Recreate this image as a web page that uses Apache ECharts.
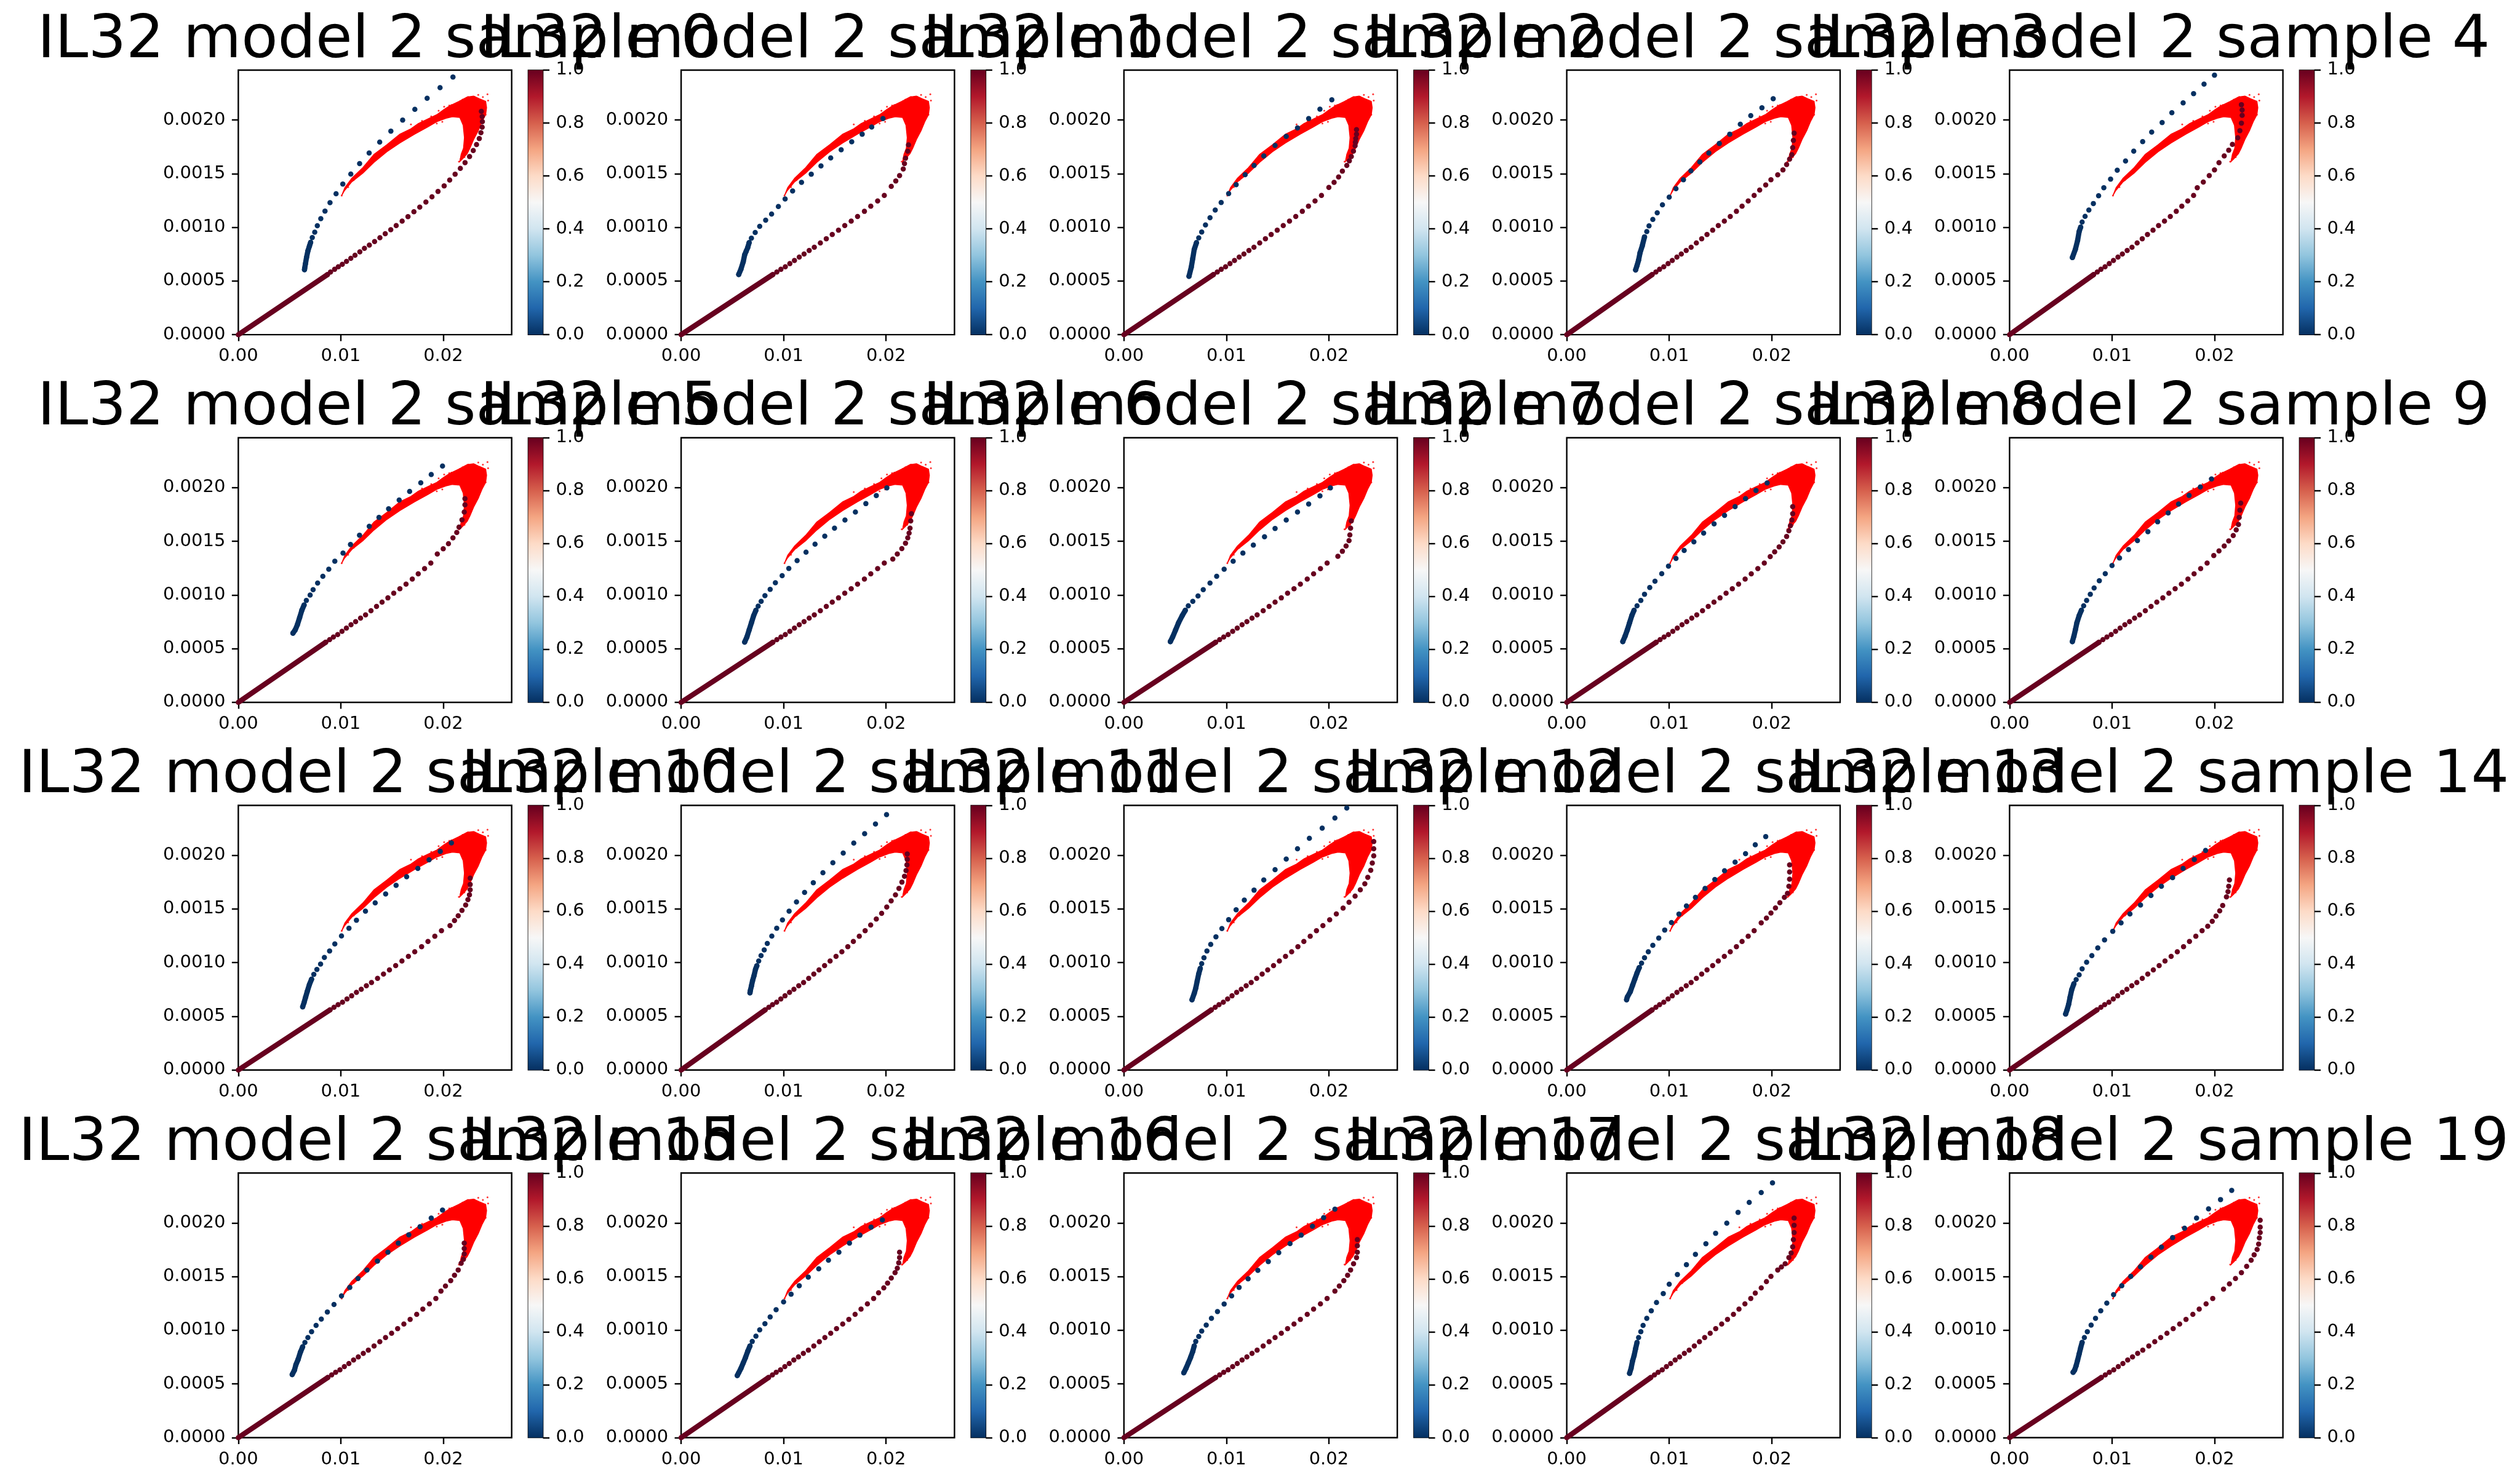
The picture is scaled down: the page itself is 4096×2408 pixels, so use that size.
<!DOCTYPE html>
<html><head><meta charset="utf-8">
<script src="https://cdn.jsdelivr.net/npm/echarts@6/dist/echarts.min.js"></script>
<style>html,body{margin:0;padding:0;background:#fff}#c{width:4096px;height:2408px}</style>
</head><body><div id="c"></div>
<script>
// ---------------- DATA ----------------
const titlePrefix = 'IL32 model 2 sample ';
const xTicks = [0, 0.01, 0.02];
const yTicks = [0, 0.0005, 0.0010, 0.0015, 0.0020];
const cbTicks = [0, 0.2, 0.4, 0.6, 0.8, 1.0];
const xMax = 0.02668;
const yMax = 0.002465;

// observed cloud (same in every panel): outline and edge speckles
const cloudOutline = [[0.01009,0.001296],[0.01040,0.00137],[0.01108,0.001457],[0.01216,0.001556],[0.01324,0.001679],[0.0145,0.00177],[0.01577,0.001868],[0.01685,0.001918],[0.01757,0.001967],[0.01847,0.002008],[0.01937,0.002049],[0.02009,0.002099],[0.02063,0.002132],[0.02153,0.002173],[0.02234,0.002214],[0.02297,0.002222],[0.02351,0.002198],[0.02414,0.002173],[0.02423,0.002115],[0.02414,0.002049],[0.02378,0.001984],[0.02342,0.001901],[0.02297,0.001819],[0.02261,0.001737],[0.02234,0.001687],[0.02189,0.001638],[0.02162,0.001613],[0.02175,0.00168],[0.02198,0.001737],[0.02207,0.001835],[0.02195,0.00195],[0.02162,0.002023],[0.0209,0.00203],[0.02027,0.002016],[0.01937,0.001984],[0.01847,0.001934],[0.01721,0.001868],[0.01577,0.001786],[0.0145,0.001704],[0.01324,0.001605],[0.01216,0.001506],[0.01108,0.001424],[0.01036,0.001342]];
const cloudSpeckle = [[0.02432,0.002239],[0.02438,0.002181],[0.02342,0.002234],[0.02243,0.002214],[0.02162,0.002173],[0.01955,0.002086],[0.01883,0.002033],[0.01793,0.001992],[0.01685,0.001959],[0.01991,0.001984],[0.01937,0.001967],[0.02153,0.001613],[0.02171,0.001638],[0.02207,0.001654],[0.02414,0.002049],[0.02405,0.002115],[0.01009,0.001296],[0.01072,0.001375],[0.01126,0.00144],[0.02059,0.002135],[0.02009,0.002123],[0.02306,0.002214],[0.02387,0.002214],[0.02189,0.00219],[0.0208,0.00214]];

// blue (value 0) model points: spaced dots and dense start segment
const b0 = [[0.02095,0.0024],[0.01969,0.002301],[0.01843,0.002203],[0.01723,0.0021],[0.01604,0.001999],[0.01489,0.001896],[0.0138,0.001794],[0.01277,0.001692],[0.01184,0.001594],[0.01098,0.001496],[0.0102,0.001403],[0.00954,0.001313],[0.00895,0.00123],[0.00846,0.001151],[0.00805,0.001081],[0.00771,0.001015],[0.00746,0.000955],[0.00722,0.000905],[0.00706,0.00086]];
const bd0 = [[0.00694,0.000825],[0.00679,0.00078],[0.00666,0.00072],[0.00655,0.00066],[0.00648,0.00062],[0.00646,0.000606]];
const b1 = [[0.0197,0.002013],[0.0186,0.001935],[0.01767,0.001868],[0.01665,0.001797],[0.01562,0.001722],[0.0146,0.001647],[0.01365,0.001572],[0.0127,0.001495],[0.01175,0.001419],[0.01088,0.001339],[0.01015,0.001264],[0.00949,0.001194],[0.00883,0.001124],[0.00825,0.001066],[0.00767,0.001009],[0.00723,0.000952],[0.00686,0.000899],[0.00664,0.000858]];
const bd1 = [[0.0065,0.000811],[0.00635,0.000778],[0.0062,0.000744],[0.00606,0.000678],[0.00584,0.000611],[0.00562,0.000561]];
const b2 = [[0.02029,0.002188],[0.01913,0.002101],[0.01803,0.002013],[0.01694,0.001926],[0.01584,0.001847],[0.01475,0.001763],[0.01365,0.001665],[0.0127,0.001577],[0.01183,0.00149],[0.01095,0.001397],[0.01022,0.001314],[0.00949,0.001231],[0.00891,0.001161],[0.0084,0.001089],[0.00796,0.001022],[0.00759,0.000956],[0.0073,0.000902],[0.00708,0.000857]];
const bd2 = [[0.00686,0.000794],[0.00672,0.000711],[0.00657,0.000628],[0.00635,0.000544]];
const b3 = [[0.02015,0.002198],[0.01905,0.002113],[0.01796,0.00204],[0.01694,0.00196],[0.01591,0.001868],[0.01489,0.001782],[0.01387,0.001693],[0.01299,0.00161],[0.01212,0.001527],[0.01139,0.001444],[0.01066,0.00136],[0.01,0.001282],[0.00934,0.00121],[0.00883,0.001136],[0.0084,0.001074],[0.00803,0.001014],[0.00781,0.000961],[0.00759,0.000911]];
const bd3 = [[0.00737,0.000828],[0.00715,0.000761],[0.00701,0.000694],[0.00686,0.000644],[0.00672,0.000603]];
const b4 = [[0.02,0.002418],[0.01898,0.002334],[0.01796,0.002246],[0.01694,0.00216],[0.01584,0.002068],[0.01489,0.001976],[0.01387,0.001888],[0.01299,0.001798],[0.01212,0.00171],[0.01132,0.001618],[0.01051,0.001532],[0.00986,0.001449],[0.0092,0.001369],[0.00869,0.001294],[0.00818,0.001222],[0.00774,0.001161],[0.00737,0.001102],[0.00708,0.001049],[0.00694,0.001002]];
const bd4 = [[0.00679,0.000961],[0.00664,0.000878],[0.00642,0.000794],[0.00613,0.000719]];
const b5 = [[0.01993,0.002201],[0.01883,0.002123],[0.01781,0.002045],[0.01672,0.001965],[0.0157,0.001885],[0.01467,0.001803],[0.01373,0.001723],[0.01278,0.00164],[0.01183,0.001557],[0.01095,0.00147],[0.01022,0.00139],[0.00942,0.001315],[0.00883,0.00124],[0.00825,0.001174],[0.00774,0.001111],[0.0073,0.001049],[0.00701,0.000999],[0.00664,0.000949],[0.00642,0.000907]];
const bd5 = [[0.0062,0.000857],[0.00599,0.000791],[0.00577,0.000724],[0.00555,0.000674],[0.00533,0.000644]];
const b6 = [[0.02008,0.001998],[0.01905,0.001926],[0.01803,0.001851],[0.01701,0.001773],[0.01599,0.001698],[0.01497,0.001623],[0.01402,0.001548],[0.01307,0.001474],[0.01219,0.001399],[0.01132,0.00132],[0.01051,0.001247],[0.00986,0.00118],[0.0092,0.001114],[0.00869,0.001052],[0.00818,0.000994],[0.00781,0.000941],[0.00752,0.000896],[0.0073,0.000857]];
const bd6 = [[0.00708,0.000808],[0.00686,0.000741],[0.00664,0.000674],[0.00642,0.000608],[0.0062,0.000561]];
const b7 = [[0.02015,0.001998],[0.01913,0.001923],[0.01803,0.001848],[0.01694,0.001773],[0.01584,0.001698],[0.01475,0.00162],[0.01372,0.001543],[0.01263,0.001465],[0.01161,0.00139],[0.01066,0.001315],[0.00978,0.00124],[0.00905,0.001174],[0.0084,0.001111],[0.00774,0.001049],[0.00723,0.000991],[0.00672,0.000941],[0.00628,0.000899],[0.00599,0.000857]];
const bd7 = [[0.00569,0.000808],[0.00533,0.000741],[0.00504,0.000674],[0.00475,0.000608],[0.00453,0.000566]];
const b8 = [[0.01956,0.002043],[0.01847,0.001973],[0.01745,0.001898],[0.01643,0.001823],[0.0154,0.001741],[0.01438,0.001662],[0.01336,0.001577],[0.01241,0.001495],[0.01146,0.001415],[0.01066,0.00134],[0.00993,0.001269],[0.00927,0.001199],[0.00861,0.001129],[0.0081,0.001069],[0.00759,0.001007],[0.00723,0.000949],[0.00686,0.000899],[0.00657,0.000857]];
const bd8 = [[0.00635,0.000808],[0.00613,0.000741],[0.00591,0.000674],[0.00569,0.000616],[0.00547,0.000566]];
const b9 = [[0.01971,0.002081],[0.01862,0.002006],[0.01752,0.001928],[0.0165,0.001848],[0.01548,0.001765],[0.01445,0.001682],[0.0135,0.00159],[0.01248,0.001507],[0.01161,0.001424],[0.01073,0.001345],[0.01,0.001274],[0.00934,0.001199],[0.00876,0.001133],[0.00825,0.001066],[0.00788,0.001007],[0.00752,0.000949],[0.00723,0.000899],[0.00701,0.000857]];
const bd9 = [[0.00679,0.000808],[0.00657,0.000741],[0.00642,0.000674],[0.00628,0.000616],[0.00613,0.000566]];
const b10 = [[0.0208,0.002115],[0.01971,0.002036],[0.01862,0.001958],[0.01752,0.001878],[0.01643,0.0018],[0.0154,0.00172],[0.01438,0.00164],[0.01336,0.001557],[0.01241,0.001479],[0.01153,0.001395],[0.0108,0.00132],[0.01007,0.001249],[0.00942,0.001175],[0.00891,0.001109],[0.0084,0.001049],[0.00803,0.000987],[0.00767,0.000936],[0.00737,0.000891],[0.00715,0.000846]];
const bd10 = [[0.00694,0.000796],[0.00672,0.000729],[0.00657,0.000679],[0.00642,0.000629],[0.00628,0.000588]];
const b11 = [[0.02005,0.002379],[0.01897,0.002291],[0.01791,0.002202],[0.01685,0.002114],[0.01582,0.002021],[0.01481,0.001931],[0.01384,0.001837],[0.0129,0.001745],[0.01205,0.001654],[0.01126,0.001565],[0.01054,0.00148],[0.00989,0.001398],[0.00933,0.00132],[0.00885,0.001248],[0.00841,0.001179],[0.00811,0.001118],[0.0078,0.001065],[0.00757,0.001016],[0.00739,0.000971]];
const bd11 = [[0.00726,0.000938],[0.00712,0.000881],[0.00697,0.000831],[0.00686,0.000782],[0.00676,0.000741],[0.00672,0.000719]];
const b12 = [[0.02175,0.002441],[0.02059,0.002348],[0.01935,0.002253],[0.0181,0.002158],[0.01694,0.002061],[0.01584,0.001965],[0.01475,0.001866],[0.01365,0.00177],[0.0127,0.001675],[0.01175,0.001582],[0.01095,0.001492],[0.01022,0.0014],[0.00956,0.001317],[0.00898,0.00124],[0.00847,0.00117],[0.0081,0.001109],[0.00781,0.001046],[0.00759,0.000991],[0.00745,0.000946]];
const bd12 = [[0.0073,0.000896],[0.00715,0.000829],[0.00701,0.000763],[0.00686,0.000713],[0.00664,0.000654]];
const b13 = [[0.01942,0.002174],[0.0184,0.002098],[0.01745,0.002015],[0.01643,0.001936],[0.0154,0.001856],[0.01445,0.001775],[0.0135,0.001692],[0.01256,0.001608],[0.01168,0.001528],[0.01095,0.001452],[0.01022,0.001374],[0.00956,0.001304],[0.00898,0.001229],[0.0084,0.001162],[0.00796,0.001101],[0.00759,0.001046],[0.0073,0.000996],[0.00708,0.000954]];
const bd13 = [[0.00686,0.000904],[0.00664,0.000846],[0.00642,0.000788],[0.0062,0.000729],[0.00591,0.000679],[0.00584,0.000654]];
const b14 = [[0.01913,0.002045],[0.01803,0.001961],[0.01694,0.001878],[0.01591,0.001792],[0.01482,0.001712],[0.0138,0.001625],[0.01278,0.001537],[0.01175,0.001454],[0.01088,0.00137],[0.01007,0.001292],[0.00927,0.001212],[0.00861,0.001137],[0.00803,0.001066],[0.00752,0.001004],[0.00708,0.000942],[0.00679,0.000887],[0.0065,0.000842],[0.00628,0.000804]];
const bd14 = [[0.00606,0.000746],[0.00591,0.000679],[0.00577,0.000613],[0.00562,0.000563],[0.00547,0.000521]];
const b15 = [[0.01993,0.00212],[0.01883,0.002045],[0.01774,0.001965],[0.01664,0.00189],[0.01562,0.001812],[0.0146,0.001728],[0.01358,0.001645],[0.01256,0.001562],[0.01168,0.001482],[0.01088,0.001399],[0.01007,0.00132],[0.00934,0.00124],[0.00869,0.00117],[0.0081,0.001104],[0.00759,0.001046],[0.00715,0.000987],[0.00679,0.000932],[0.0065,0.000887],[0.00628,0.000846]];
const bd15 = [[0.00606,0.000796],[0.00584,0.000729],[0.00562,0.000679],[0.00548,0.000629],[0.00526,0.000588]];
const b16 = [[0.01964,0.002028],[0.01854,0.001961],[0.01745,0.001886],[0.01643,0.001812],[0.0154,0.001728],[0.01438,0.001653],[0.01343,0.001573],[0.01241,0.001495],[0.01153,0.001415],[0.01073,0.001337],[0.01,0.001265],[0.00927,0.001192],[0.00869,0.001124],[0.00818,0.001062],[0.00767,0.001004],[0.0073,0.000946],[0.00694,0.000896],[0.00672,0.000854]];
const bd16 = [[0.0065,0.000804],[0.00628,0.000746],[0.00606,0.000696],[0.00584,0.000646],[0.00562,0.000604],[0.00548,0.000579]];
const b17 = [[0.02059,0.002128],[0.01949,0.00205],[0.0184,0.00197],[0.0173,0.001886],[0.01621,0.001807],[0.01511,0.001723],[0.01409,0.00164],[0.01307,0.001558],[0.01212,0.001479],[0.01124,0.001399],[0.01051,0.00132],[0.00978,0.001245],[0.00913,0.001175],[0.00854,0.001112],[0.00803,0.001049],[0.00759,0.000992],[0.0073,0.000942],[0.00701,0.000896],[0.00686,0.000854]];
const bd17 = [[0.00672,0.000804],[0.0065,0.000746],[0.00628,0.000696],[0.00606,0.000646],[0.00584,0.000604]];
const b18 = [[0.02008,0.002374],[0.01898,0.002283],[0.01781,0.002191],[0.01672,0.002098],[0.01562,0.001998],[0.01453,0.001903],[0.01358,0.001806],[0.01256,0.001707],[0.01168,0.001612],[0.0108,0.00152],[0.01,0.001429],[0.00942,0.001342],[0.00876,0.001259],[0.00825,0.001182],[0.00781,0.001112],[0.00745,0.001046],[0.00723,0.000987],[0.00701,0.000932],[0.00686,0.000887]];
const bd18 = [[0.00672,0.000829],[0.00657,0.000763],[0.00642,0.000713],[0.00628,0.000646],[0.00613,0.000599]];
const b19 = [[0.02168,0.002303],[0.02059,0.002218],[0.01942,0.002131],[0.01825,0.002045],[0.01708,0.001951],[0.01591,0.001863],[0.01482,0.001775],[0.0138,0.001682],[0.01278,0.001591],[0.01183,0.001502],[0.01095,0.001415],[0.01015,0.001332],[0.00949,0.001254],[0.0089,0.001182],[0.00839,0.001112],[0.00796,0.001049],[0.00759,0.000987],[0.0073,0.000932],[0.00708,0.000887]];
const bd19 = [[0.00694,0.000837],[0.00679,0.000779],[0.00664,0.000721],[0.0065,0.000671],[0.00635,0.000629],[0.0062,0.000609]];

// dark red (value 1) model points: upper part read per panel
const r0 = [[0.02372,0.002081],[0.0238,0.002032],[0.02382,0.001985],[0.0238,0.001933],[0.02368,0.001881],[0.02352,0.001827],[0.02325,0.001772],[0.02293,0.001715],[0.02257,0.00166],[0.02213,0.001603],[0.02167,0.001549],[0.02116,0.001495],[0.02063,0.00144],[0.02009,0.001386],[0.01949,0.001335],[0.0189,0.001285],[0.01831,0.001236],[0.01771,0.001188],[0.01714,0.001146],[0.01656,0.0011],[0.01599,0.001058],[0.01541,0.001017],[0.01488,0.000978],[0.01434,0.00094],[0.01382,0.000904],[0.0133,0.000868],[0.01279,0.000835],[0.01231,0.000804],[0.01186,0.000771],[0.01139,0.00074],[0.01098,0.000712],[0.01056,0.000683],[0.01015,0.000656],[0.00976,0.000632],[0.0094,0.000609],[0.009,0.000584],[0.0087,0.00056]];
const r1 = [[0.02219,0.001768],[0.02212,0.00171],[0.0219,0.001644],[0.0218,0.001594],[0.02168,0.001544],[0.02132,0.001482],[0.02095,0.001432],[0.02051,0.001382]];
const r2 = [[0.0227,0.00191],[0.0227,0.001868],[0.02263,0.001827],[0.02259,0.001793],[0.02256,0.00176],[0.0224,0.00171],[0.02219,0.00166],[0.022,0.00162],[0.02175,0.001577],[0.02132,0.001523],[0.02095,0.001469],[0.02051,0.001419],[0.02,0.001372]];
const r3 = [[0.02219,0.001877],[0.02212,0.00181],[0.02205,0.001743],[0.02197,0.001677],[0.02175,0.001635],[0.02146,0.001585],[0.0211,0.001535],[0.02059,0.001489],[0.01993,0.001444],[0.01942,0.001394],[0.01883,0.001347]];
const r4 = [[0.02263,0.002143],[0.0227,0.002093],[0.0227,0.002043],[0.02263,0.00197],[0.02248,0.0019],[0.02227,0.001835],[0.02175,0.001773],[0.02139,0.001718],[0.02095,0.001665],[0.02044,0.001602],[0.02,0.001535],[0.01949,0.001482],[0.01891,0.001422],[0.01832,0.001369]];
const r5 = [[0.02212,0.001898],[0.02212,0.00184],[0.02205,0.001773],[0.02183,0.0017],[0.02154,0.001632],[0.02132,0.001582],[0.02095,0.001532],[0.02051,0.001478],[0.02,0.00143],[0.01942,0.001382]];
const r6 = [[0.02248,0.001757],[0.02241,0.00169],[0.02234,0.001623],[0.02225,0.001577],[0.02212,0.001532],[0.0219,0.001482],[0.02154,0.001432],[0.0211,0.001382],[0.02066,0.001335]];
const r7 = [[0.02219,0.00169],[0.02212,0.001623],[0.02205,0.00156],[0.02197,0.001507],[0.02168,0.001457],[0.02132,0.001407],[0.02088,0.00136]];
const r8 = [[0.02205,0.001823],[0.02205,0.001757],[0.02197,0.001698],[0.02183,0.001645],[0.02168,0.001598],[0.02146,0.001545],[0.0211,0.001495],[0.02073,0.001448],[0.02029,0.001402],[0.01986,0.001357]];
const r9 = [[0.02256,0.001856],[0.02248,0.00179],[0.02241,0.001723],[0.02234,0.001657],[0.02212,0.001607],[0.02183,0.001554],[0.02139,0.001504],[0.02095,0.001457],[0.02044,0.001411],[0.01993,0.001367]];
const r10 = [[0.02263,0.001787],[0.02263,0.001728],[0.02263,0.001678],[0.02256,0.001632],[0.02241,0.001587],[0.02219,0.001537],[0.02183,0.001487],[0.02146,0.001437],[0.0211,0.001392],[0.02066,0.001345]];
const r11 = [[0.02207,0.002012],[0.02207,0.001962],[0.02204,0.001911],[0.02195,0.001858],[0.0218,0.001804],[0.02155,0.00175],[0.02126,0.001691],[0.02092,0.001631],[0.0205,0.001575],[0.02007,0.001518],[0.01957,0.00146],[0.01905,0.001406],[0.0185,0.001351]];
const r12 = [[0.02438,0.002128],[0.02438,0.002061],[0.02438,0.001995],[0.02424,0.001928],[0.02409,0.001861],[0.0238,0.001795],[0.02351,0.001735],[0.02307,0.001678],[0.02256,0.00162],[0.02197,0.001562],[0.02139,0.001508],[0.02073,0.001454],[0.02008,0.001399],[0.01942,0.001345]];
const r13 = [[0.02175,0.001911],[0.02175,0.001845],[0.02175,0.001778],[0.02168,0.001712],[0.02154,0.001645],[0.02124,0.001608],[0.0208,0.001558],[0.02037,0.00151],[0.01993,0.001462],[0.01949,0.001415],[0.01898,0.00137]];
const r14 = [[0.02146,0.00177],[0.02139,0.001712],[0.02132,0.001662],[0.02117,0.001612],[0.0208,0.001532],[0.02051,0.001482],[0.02015,0.001434],[0.01978,0.001385],[0.01934,0.001339]];
const r15 = [[0.02205,0.001812],[0.02205,0.001762],[0.02205,0.001712],[0.02197,0.001662],[0.02175,0.001625],[0.02146,0.001562],[0.0211,0.001512],[0.02073,0.001462],[0.02022,0.001412],[0.01978,0.001365]];
const r16 = [[0.02132,0.001728],[0.02132,0.001678],[0.02124,0.001628],[0.0211,0.001578],[0.02088,0.001537],[0.02051,0.001487],[0.02015,0.00144],[0.01978,0.001395],[0.01927,0.001349]];
const r17 = [[0.02278,0.001845],[0.02278,0.001787],[0.02278,0.001728],[0.0227,0.001678],[0.02241,0.00162],[0.02212,0.001562],[0.02183,0.001512],[0.02146,0.001462],[0.02102,0.001412],[0.02059,0.001365]];
const r18 = [[0.02219,0.002045],[0.02219,0.001978],[0.02219,0.001911],[0.02212,0.001845],[0.02205,0.001778],[0.0219,0.00172],[0.02168,0.001678],[0.02132,0.00162],[0.02095,0.00159],[0.02059,0.001562],[0.01993,0.001503],[0.01949,0.001454],[0.01898,0.001395],[0.0184,0.001347]];
const r19 = [[0.02446,0.002025],[0.02446,0.001961],[0.02446,0.001911],[0.02438,0.001861],[0.02431,0.001803],[0.02416,0.001753],[0.02387,0.001703],[0.02358,0.001653],[0.02314,0.001595],[0.02263,0.001537],[0.02205,0.001482],[0.02146,0.001432],[0.02088,0.001384]];

// dark red lower part (similar in all panels; estimated x at common heights)
const redLowerY    = [0.001297,0.001246,0.001197,0.001149,0.001101,0.001058,0.001016,0.000973,0.000933,0.000894,0.000854,0.000815,0.000785,0.000752,0.000723,0.000691,0.000662,0.000632,0.000609,0.000584,0.00056];
const redLowerX00  = [0.01796,0.01739,0.01681,0.01627,0.01569,0.01512,0.01454,0.014,0.01346,0.01295,0.01245,0.01195,0.01148,0.01101,0.01058,0.01014,0.00973,0.00932,0.00892,0.00856,0.0082];
const redLowerX03  = [0.01829,0.01771,0.01711,0.01656,0.01596,0.01538,0.01479,0.01424,0.01369,0.01317,0.01265,0.01214,0.01166,0.01118,0.01075,0.0103,0.00989,0.00947,0.00906,0.0087,0.00833];
const redLowerX075 = [0.01879,0.01818,0.01756,0.01698,0.01637,0.01577,0.01517,0.0146,0.01403,0.01349,0.01295,0.01242,0.01193,0.01145,0.011,0.01055,0.01012,0.0097,0.00928,0.00891,0.00853];
const redLowerX12  = [0.01928,0.01865,0.01801,0.01741,0.01677,0.01616,0.01555,0.01496,0.01437,0.01381,0.01325,0.01269,0.0122,0.01171,0.01125,0.01079,0.01035,0.00992,0.0095,0.00911,0.00873];
const redLowerX17  = [0.01983,0.01918,0.01851,0.01789,0.01722,0.0166,0.01597,0.01536,0.01475,0.01417,0.01359,0.013,0.0125,0.012,0.01153,0.01106,0.01061,0.01017,0.00974,0.00934,0.00895];
// which lower profile each panel follows (null: fully read)
const redLowerOf = [null,'17','12','03','00','075','17','17','12','12','17','00','075','03','075','12','075','17','00','17'];

// ---------------- BUILD ----------------
const BLUE = [b0,b1,b2,b3,b4,b5,b6,b7,b8,b9,b10,b11,b12,b13,b14,b15,b16,b17,b18,b19];
const BLUED = [bd0,bd1,bd2,bd3,bd4,bd5,bd6,bd7,bd8,bd9,bd10,bd11,bd12,bd13,bd14,bd15,bd16,bd17,bd18,bd19];
const REDU = [r0,r1,r2,r3,r4,r5,r6,r7,r8,r9,r10,r11,r12,r13,r14,r15,r16,r17,r18,r19];
const LOWER = {'00':redLowerX00,'03':redLowerX03,'075':redLowerX075,'12':redLowerX12,'17':redLowerX17};
function redFor(i){
  const key = redLowerOf[i];
  if (!key) return REDU[i].slice();
  return REDU[i].concat(LOWER[key].map((x,k)=>[x, redLowerY[k]]));
}

const S = 4096/6112;
const FONT = 'DejaVu Sans';
const BLUEC = '#053061', REDC = '#67001f', CLOUDC = '#ff0000';
const DOT = 8.5;
const rdbuR = ['#053061','#2166ac','#4393c3','#92c5de','#d1e5f0','#f7f7f7','#fddbc7','#f4a582','#d6604d','#b2182b','#67001f'];

const grid = [], xAxis = [], yAxis = [], series = [], title = [];
const tickStyle = {show:true, length:10.5, inside:false, lineStyle:{color:'#000', width:2.4}};
const labelBase = {fontSize:29, color:'#000', fontFamily:FONT, margin:21};

for (let i = 0; i < 20; i++) {
  const r = Math.floor(i/5), c = i % 5;
  const L = (578 + 1074*c)*S, T = (170 + 892*r)*S, W = 663*S, H = 642*S;
  grid.push({left:L, top:T, width:W, height:H, show:true, borderColor:'#000', borderWidth:2.4, backgroundColor:'rgba(0,0,0,0)', containLabel:false});
  xAxis.push({gridIndex:i, type:'value', min:0, max:xMax, axisLine:{show:false},
    axisTick:Object.assign({customValues:xTicks}, tickStyle),
    axisLabel:Object.assign({customValues:xTicks, formatter:v=>v.toFixed(2)}, labelBase),
    splitLine:{show:false}});
  yAxis.push({gridIndex:i, type:'value', min:0, max:yMax, axisLine:{show:false},
    axisTick:Object.assign({customValues:yTicks}, tickStyle),
    axisLabel:Object.assign({customValues:yTicks, formatter:v=>v.toFixed(4)}, labelBase),
    splitLine:{show:false}});
  title.push({text:titlePrefix + i, left:L + W/2, top:(143 + 892*r)*S - 82, textAlign:'center',
    textStyle:{fontSize:97, lineHeight:97, fontWeight:'normal', fontFamily:FONT, color:'#000'}});

  // cloud polygon
  series.push({type:'custom', xAxisIndex:i, yAxisIndex:i, silent:true, z:1, clip:true, data:[[0.02,0.002]],
    renderItem:(params, api) => ({type:'polygon', shape:{points: cloudOutline.map(p => api.coord(p))},
      style:{fill:CLOUDC, stroke:CLOUDC, lineWidth:1.5}})});
  series.push({type:'scatter', xAxisIndex:i, yAxisIndex:i, silent:true, z:1, symbolSize:3, data:cloudSpeckle,
    itemStyle:{color:CLOUDC}});
  const red = redFor(i);
  // dense dark-red run from the origin
  series.push({type:'line', xAxisIndex:i, yAxisIndex:i, silent:true, z:2, showSymbol:false, symbol:'none',
    data:[[0,0], red[red.length-1]], lineStyle:{color:REDC, width:DOT, cap:'round'}});
  // dense blue start
  series.push({type:'line', xAxisIndex:i, yAxisIndex:i, silent:true, z:2, showSymbol:false, symbol:'none',
    data:[BLUE[i][BLUE[i].length-1]].concat(BLUED[i]), lineStyle:{color:BLUEC, width:DOT, cap:'round'}});
  series.push({type:'scatter', xAxisIndex:i, yAxisIndex:i, silent:true, z:3, symbolSize:DOT, data:red,
    itemStyle:{color:REDC, opacity:1}});
  series.push({type:'scatter', xAxisIndex:i, yAxisIndex:i, silent:true, z:3, symbolSize:DOT, data:BLUE[i].concat(BLUED[i]),
    itemStyle:{color:BLUEC, opacity:1}});
}
// colorbars
for (let i = 0; i < 20; i++) {
  const r = Math.floor(i/5), c = i % 5;
  const gi = 20 + i;
  const L = (578 + 1074*c + 703)*S, T = (170 + 892*r)*S, W = 36*S, H = 642*S;
  grid.push({left:L, top:T, width:W, height:H, show:true, borderColor:'#000', borderWidth:1.6, backgroundColor:'rgba(0,0,0,0)'});
  xAxis.push({gridIndex:gi, type:'category', data:['cb'], show:false});
  yAxis.push({gridIndex:gi, type:'value', min:0, max:1, position:'right', axisLine:{show:false},
    axisTick:Object.assign({customValues:cbTicks}, tickStyle),
    axisLabel:Object.assign({customValues:cbTicks, formatter:v=>v.toFixed(1)}, labelBase),
    splitLine:{show:false}});
  series.push({type:'bar', xAxisIndex:gi, yAxisIndex:gi, silent:true, barWidth:'100%', data:[1],
    itemStyle:{color:new echarts.graphic.LinearGradient(0,1,0,0, rdbuR.map((col,k)=>({offset:k/10, color:col})))}});
}

const chart = echarts.init(document.getElementById('c'), null, {renderer:'canvas', width:4096, height:2408});
chart.setOption({animation:false, backgroundColor:'#fff', textStyle:{fontFamily:FONT},
  title, grid, xAxis, yAxis, series});
</script></body></html>
